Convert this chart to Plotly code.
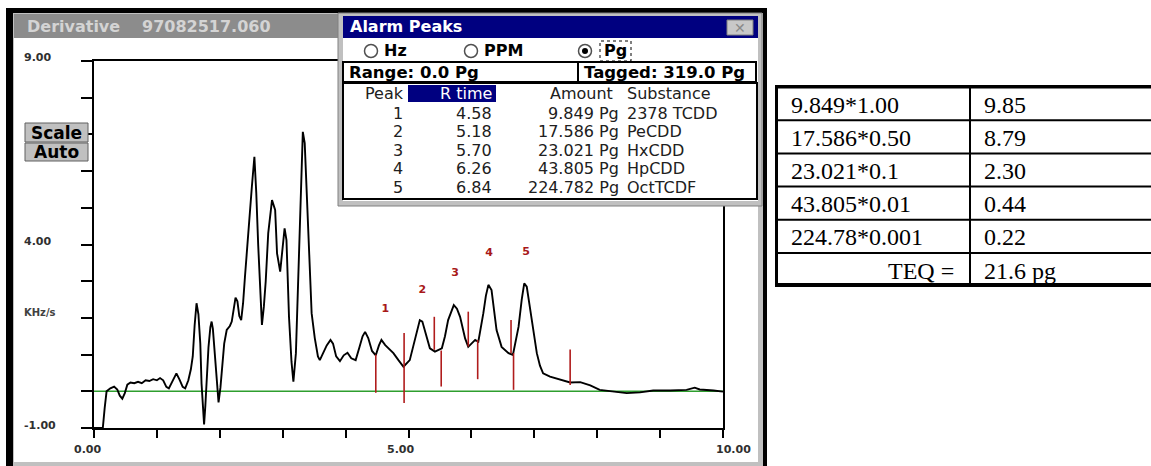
import numpy as np
import plotly.graph_objects as go

W, H = 1151, 466

# ---------------- data ----------------
rt = [0.00, 0.14, 0.17, 0.20, 0.26, 0.32, 0.37, 0.41, 0.45, 0.49, 0.53, 0.58, 0.64, 0.70,
      0.76, 0.82, 0.88, 0.94, 1.00, 1.05, 1.10, 1.15, 1.19, 1.25, 1.31, 1.36, 1.41, 1.45,
      1.50, 1.54, 1.57, 1.60, 1.63, 1.66, 1.69, 1.71, 1.73, 1.75, 1.77, 1.79, 1.82, 1.85,
      1.87, 1.89, 1.92, 1.95, 1.98, 2.01, 2.04, 2.07, 2.11, 2.16, 2.19, 2.22, 2.25, 2.28,
      2.31, 2.34, 2.37, 2.40, 2.45, 2.51, 2.55, 2.58, 2.61, 2.64, 2.67, 2.70, 2.73, 2.77,
      2.83, 2.88, 2.91, 2.96, 3.00, 3.03, 3.06, 3.10, 3.14, 3.17, 3.21, 3.25, 3.27, 3.32,
      3.35, 3.41, 3.46, 3.51, 3.56, 3.59, 3.64, 3.70, 3.76, 3.80, 3.85, 3.91, 3.97, 4.03,
      4.09, 4.16, 4.22, 4.27, 4.31, 4.36, 4.42, 4.48, 4.53, 4.57, 4.63, 4.70, 4.76, 4.84,
      4.92, 5.02, 5.10, 5.18, 5.22, 5.26, 5.34, 5.42, 5.53, 5.58, 5.63, 5.72, 5.77, 5.82,
      5.90, 5.95, 6.00, 6.06, 6.11, 6.15, 6.19, 6.23, 6.27, 6.32, 6.36, 6.40, 6.48, 6.59,
      6.66, 6.70, 6.75, 6.80, 6.84, 6.88, 6.92, 6.96, 7.00, 7.04, 7.09, 7.14, 7.25, 7.41,
      7.57, 7.73, 7.89, 8.04, 8.26, 8.47, 8.68, 8.89, 9.16, 9.42, 9.55, 9.63, 9.85, 10.00]
signal = [-1.00, -1.00, -0.45, 0.00, 0.08, 0.13, 0.05, -0.12, -0.20, -0.05, 0.18, 0.24, 0.22, 0.26,
          0.22, 0.30, 0.28, 0.33, 0.30, 0.36, 0.30, 0.12, 0.08, 0.30, 0.49, 0.32, 0.12, 0.08,
          0.30, 0.60, 0.95, 1.80, 2.40, 2.10, 1.30, 0.20, -0.50, -0.90, -0.40, 0.40, 1.20, 1.75,
          1.90, 1.70, 1.00, 0.20, -0.30, 0.10, 0.70, 1.30, 1.67, 1.78, 1.90, 2.25, 2.55, 2.45,
          2.05, 1.94, 2.40, 3.12, 4.31, 5.58, 6.39, 5.40, 4.00, 2.85, 1.81, 2.30, 3.00, 4.31,
          5.21, 4.94, 3.76, 3.26, 3.94, 4.44, 4.12, 2.03, 0.80, 0.26, 1.04, 3.40, 4.76, 7.07,
          6.76, 4.31, 2.13, 1.45, 0.95, 0.85, 1.05, 1.25, 1.40, 1.30, 0.95, 0.82, 0.98, 1.05,
          0.90, 0.85, 1.20, 1.50, 1.62, 1.45, 1.10, 0.98, 1.25, 1.40, 1.26, 1.15, 1.04, 0.85,
          0.67, 0.85, 1.40, 1.94, 1.90, 1.67, 1.17, 1.08, 1.17, 1.50, 1.94, 2.35, 2.25, 2.03,
          1.44, 1.21, 1.30, 1.40, 1.35, 1.70, 2.13, 2.60, 2.90, 2.76, 2.20, 1.67, 1.21, 1.04,
          0.99, 1.30, 1.76, 2.50, 2.94, 2.85, 2.40, 1.94, 1.45, 1.04, 0.70, 0.49, 0.40, 0.33,
          0.24, 0.25, 0.16, 0.04, -0.01, -0.05, -0.03, 0.02, 0.02, 0.04, 0.10, 0.05, 0.02, -0.01]
baseline_level = 0.0

marker_x = [4.48, 4.93, 5.41, 5.52, 5.95, 6.10, 6.63, 6.67, 7.57]
marker_top = [1.00, 1.59, 2.03, 1.11, 2.17, 1.40, 1.94, 1.04, 1.14]
marker_bot = [-0.04, -0.32, 1.13, 0.13, 1.22, 0.33, 1.04, 0.04, 0.17]

peak_ids = ["1", "2", "3", "4", "5"]
peak_label_x = [4.63, 5.22, 5.74, 6.28, 6.87]
peak_label_y = [2.24, 2.76, 3.22, 3.77, 3.80]
peak_rtimes = ["4.58", "5.18", "5.70", "6.26", "6.84"]
peak_amounts = ["9.849 Pg", "17.586 Pg", "23.021 Pg", "43.805 Pg", "224.782 Pg"]
peak_substances = ["2378 TCDD", "PeCDD", "HxCDD", "HpCDD", "OctTCDF"]

teq_factors = ["9.849*1.00", "17.586*0.50", "23.021*0.1", "43.805*0.01", "224.78*0.001", "TEQ ="]
teq_values = ["9.85", "8.79", "2.30", "0.44", "0.22", "21.6 pg"]

x_tick_vals = [0, 5, 10]
x_tick_text = ["0.00", "5.00", "10.00"]
y_tick_vals = [9, 4, -1]
y_tick_text = ["9.00", "4.00", "-1.00"]

# ---------------- helpers (layout chrome in pixel units) ----------------
def PX(x):
    return x / W


def PY(y):
    return 1 - y / H


shapes = []
annotations = []


def rect(x0, y0, x1, y1, fill=None, line=None, lw=0, layer="below", dash=None):
    d = dict(type="rect", xref="paper", yref="paper", x0=PX(x0), x1=PX(x1), y0=PY(y1), y1=PY(y0),
             layer=layer, line=dict(width=lw, color=line or "rgba(0,0,0,0)"))
    if dash:
        d["line"]["dash"] = dash
    d["fillcolor"] = fill if fill else "rgba(0,0,0,0)"
    shapes.append(d)


def circ(x0, y0, x1, y1, fill, line, lw, layer="above"):
    shapes.append(dict(type="circle", xref="paper", yref="paper", x0=PX(x0), x1=PX(x1),
                       y0=PY(y1), y1=PY(y0), fillcolor=fill, line=dict(color=line, width=lw),
                       layer=layer))


def hline(x0, x1, y, color, lw, layer="above"):
    shapes.append(dict(type="line", xref="paper", yref="paper", x0=PX(x0), x1=PX(x1),
                       y0=PY(y), y1=PY(y), line=dict(color=color, width=lw), layer=layer))


def vline(x, y0, y1, color, lw, layer="above"):
    shapes.append(dict(type="line", xref="paper", yref="paper", x0=PX(x), x1=PX(x),
                       y0=PY(y0), y1=PY(y1), line=dict(color=color, width=lw), layer=layer))


def text(s, x, y, size, color="black", family="DejaVu Sans", anchor="left", bold=False):
    annotations.append(dict(text=("<b>%s</b>" % s) if bold else s, x=PX(x), y=PY(y),
                            xref="paper", yref="paper", xanchor=anchor, yanchor="middle",
                            showarrow=False, font=dict(size=size, color=color, family=family)))


# ---------------- window frame ----------------
rect(6, 8, 767, 466, fill="black")
rect(13, 13, 763, 466, fill="#c0c0c0")
rect(14, 38, 758, 462, fill="white")
rect(14, 14, 758, 38, fill="#8c8c8c")
text("Derivative", 25, 26, 16, color="#d4d4d4", bold=True)
text("97082517.060", 140, 26, 16, color="#d4d4d4", bold=True)

# Scale / Auto buttons
rect(25, 123, 88, 142, fill="#c0c0c0", line="#606060", lw=1, layer="above")
rect(25, 143, 88, 161, fill="#c0c0c0", line="#606060", lw=1, layer="above")
text("Scale", 56.5, 133, 17, bold=True, anchor="center")
text("Auto", 56.5, 152, 17, bold=True, anchor="center")

# axis tick labels
for v, s in zip(x_tick_vals, x_tick_text):
    annotations.append(dict(text="<b>%s</b>" % s, x=v, y=PY(449), xref="x", yref="paper",
                            xanchor="center", yanchor="middle", showarrow=False,
                            xshift={0: -7, 5: -8, 10: 10}[v],
                            font=dict(size=11, color="#303030", family="DejaVu Sans")))
for v, s in zip(y_tick_vals, y_tick_text):
    annotations.append(dict(text="<b>%s</b>" % s, x=PX(22), y=v, xref="paper", yref="y",
                            xanchor="left", yanchor="middle", showarrow=False, yshift=3,
                            font=dict(size=11, color="#303030", family="DejaVu Sans")))
text("KHz/s", 22, 312, 10, color="#404040", bold=True)

# ---------------- Alarm Peaks dialog ----------------
rect(338, 13, 762, 206, fill="#c0c0c0", line="#808080", lw=1, layer="above")
rect(343, 38, 758, 201, fill="white", layer="above")
rect(343, 16, 758, 38, fill="#000080", layer="above")
text("Alarm Peaks", 348, 27, 16, color="white", bold=True)
rect(727, 20, 753, 35, fill="#c8c8c8", line="#808080", lw=1, layer="above")
text("✕", 740, 27.5, 14, color="#8a8a8a", anchor="center")

radio_labels = ["Hz", "PPM", "Pg"]
radio_cx = [371, 471, 585]
radio_tx = [382, 482, 602]
for i, (lab, cx, tx) in enumerate(zip(radio_labels, radio_cx, radio_tx)):
    circ(cx - 6.5, 44.5, cx + 6.5, 57.5, "white", "#505050", 1.5)
    text(lab, tx, 51, 16, bold=True)
circ(582, 48, 588, 54, "black", "black", 0)
rect(600, 41, 631, 61, line="black", lw=1, layer="above", dash="dot")

rect(343, 62, 578, 82, line="black", lw=2, layer="above")
rect(578, 62, 756, 82, line="black", lw=2, layer="above")
text("Range: 0.0 Pg", 347, 72, 16.5, bold=True)
text("Tagged: 319.0 Pg", 582, 72, 16.5, bold=True)

rect(343, 83, 757, 199, line="black", lw=2, layer="above")
rect(408, 85, 496, 102, fill="#000080", layer="above")
text("Peak", 406, 94, 16, color="#202020", anchor="right")
text("R time", 494, 94, 16, color="white", anchor="right")
text("Amount", 615, 94, 16, color="#202020", anchor="right")
text("Substance", 625, 94, 16, color="#202020")
for i in range(len(peak_ids)):
    yy = 113 + 18.6 * i
    text(peak_ids[i], 405, yy, 16, color="#202020", anchor="right")
    text(peak_rtimes[i], 494, yy, 16, color="#202020", anchor="right")
    text(peak_amounts[i], 621, yy, 16, color="#202020", anchor="right")
    text(peak_substances[i], 625, yy, 16, color="#202020")

# ---------------- TEQ table ----------------
row_top, row_h = 87, 33.2
n_rows = len(teq_factors)
rect(775, 85, 1151, 88.5, fill="black", layer="above")
rect(775, 283, 1151, 287, fill="black", layer="above")
rect(775, 85, 778, 287, fill="black", layer="above")
for k in range(1, n_rows):
    hline(778, 1151, row_top + row_h * k, "black", 2)
vline(970, 87, 285, "black", 2)
for i in range(n_rows):
    yy = row_top + row_h * (i + 0.5) + 1
    if i == n_rows - 1:
        text(teq_factors[i], 956, yy, 24, family="Liberation Serif", anchor="right")
    else:
        text(teq_factors[i], 789, yy, 24, family="Liberation Serif")
    text(teq_values[i], 982, yy, 24, family="Liberation Serif")

# ---------------- traces ----------------
rt_a = np.array(rt)
sig_a = np.array(signal)
tail = rt_a >= 7.9

mx, my = [], []
for x, t, b in zip(marker_x, marker_top, marker_bot):
    mx += [x, x, None]
    my += [b, t, None]

fig = go.Figure()
fig.add_trace(go.Scatter(x=rt_a[tail], y=np.minimum(sig_a[tail], baseline_level), mode="lines",
                         fill="tozeroy", fillcolor="rgba(40,150,40,0.55)",
                         line=dict(width=0), hoverinfo="skip"))
fig.add_trace(go.Scatter(x=[0, 10], y=[baseline_level, baseline_level], mode="lines",
                         line=dict(color="#2e9e2e", width=1.5), hoverinfo="skip"))
fig.add_trace(go.Scatter(x=rt, y=signal, mode="lines", line=dict(color="black", width=1.9),
                         hoverinfo="skip"))
fig.add_trace(go.Scatter(x=mx, y=my, mode="lines", line=dict(color="#b01c1c", width=1.6),
                         hoverinfo="skip"))
fig.add_trace(go.Scatter(x=peak_label_x, y=peak_label_y, mode="text",
                         text=["<b>%s</b>" % p for p in peak_ids],
                         textfont=dict(color="#a81818", size=11, family="DejaVu Sans"),
                         hoverinfo="skip"))

axis_common = dict(showline=True, linecolor="black", linewidth=2, mirror=True, ticks="outside",
                   tickcolor="black", tickwidth=1.5, showticklabels=False, showgrid=False,
                   zeroline=False, dtick=1, tick0=0, fixedrange=True)
fig.update_layout(
    width=W, height=H, margin=dict(l=0, r=0, t=0, b=0), autosize=False,
    paper_bgcolor="white", plot_bgcolor="rgba(0,0,0,0)", showlegend=False,
    xaxis=dict(domain=[94 / W, 723 / W], range=[0, 10], ticklen=8, **axis_common),
    yaxis=dict(domain=[1 - 428 / H, 1 - 61 / H], range=[-1, 9], ticklen=11, **axis_common),
    shapes=shapes, annotations=annotations,
)

fig.write_html("out.html", config={"displayModeBar": False})
